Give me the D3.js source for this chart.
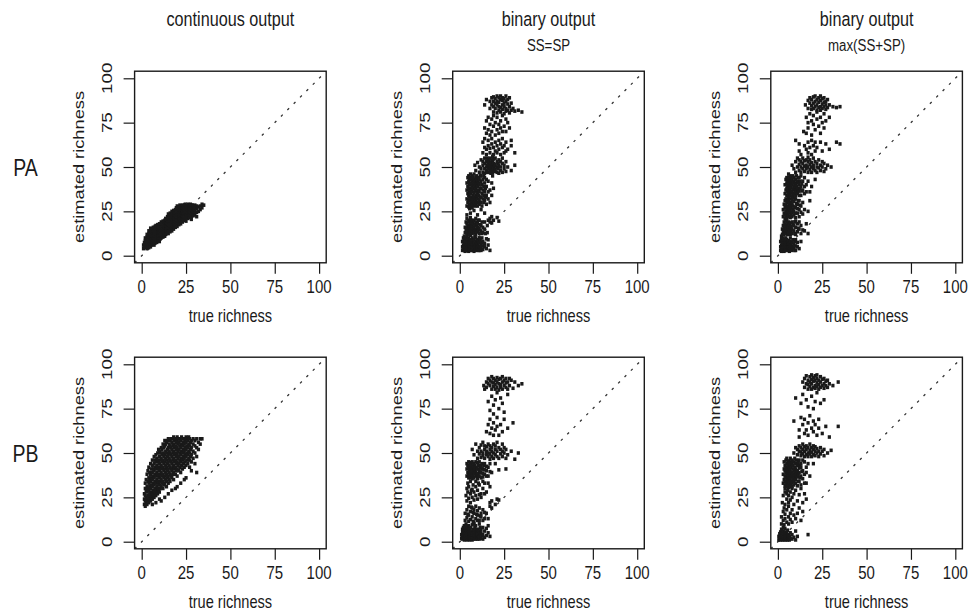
<!DOCTYPE html>
<html><head><meta charset="utf-8">
<script src="https://cdn.jsdelivr.net/npm/d3@7"></script>
<style>
body{margin:0;background:#fff}
svg{display:block}
text{font-family:"Liberation Sans",Arial,Helvetica,sans-serif;fill:#1a1a1a}
</style>
</head><body>
<svg id="chart" width="971" height="612"></svg>
<script>
// ---------- labels ----------
const columnTitles = ["continuous output", "binary output", "binary output"];
const columnSubtitles = ["", "SS=SP", "max(SS+SP)"];
const rowLabels = ["PA", "PB"];
const tickValues = [0, 25, 50, 75, 100];
const xTitle = "true richness";
const yTitle = "estimated richness";

// ---------- data: each row = [true richness, estimated richness values...] ----------
const paContinuous = [
 [1,4,6],[1.5,5,7.5],[2,4.5,6,8.5,10],[2.5,5,7,9],[3,4,6,8,10.5,12],[3.5,5,7,9.5,11],
 [4,4.5,6,8,10,12.5,14],[4.5,5.5,7.5,9,11,13],[5,5,6.5,8.5,10.5,12,14.5,15.5],[5.5,6,8,9.5,11.5,13.5],
 [6,6.5,7.5,9,11,13,15],[6.5,7,8.5,10,12,14,16],[7,6,8,9.5,11.5,13,15],[7.5,7,9,10.5,12.5,14.5,16.5],
 [8,8,10,11.5,13.5,15.5,17],[8.5,7.5,9,11,12.5,14,16],[9,8.5,10,12,13.5,15,17.5],[9.5,9,11,13,14.5,16.5],
 [10,8,10,12,13.5,15,16.5,18],[10.5,9.5,11.5,13,14.5,16],[11,10,12,14,15.5,17,19],[11.5,11,12.5,14.5,16,18],
 [12,10.5,12,13.5,15,17,19.5],[12.5,11.5,13,15,16.5,18.5],[13,11,12.5,14,16,17.5,20],[13.5,12,14,15.5,17,19,21],
 [14,12.5,14,15.5,17,18.5,20.5],[14.5,13,15,16.5,18,20,22],[15,12.5,14,16,17.5,19,21,23.5],
 [15.5,14,16,17.5,19.5,21.5],[16,13.5,15,17,18.5,20,22,24],[16.5,15,16.5,18,20,21.5,23],
 [17,14,16,17.5,19,21,22.5,25],[17.5,15.5,17,19,20.5,22,24],[18,15,16.5,18,20,21.5,23,25.5],
 [18.5,16.5,18,19.5,21,23,24.5],[19,16,17.5,19,21,22.5,24,26],[19.5,17,19,20.5,22,24,25.5,27],
 [20,16.5,18,20,21.5,23,25,26.5,28],[20.5,18.5,20,22,23.5,25,27],[21,17.5,19.5,21,22.5,24,26,27.5],
 [21.5,19,20.5,22,24,25.5,27,28.5],[22,18,20,21.5,23,25,26.5,28],[22.5,19.5,21,23,24.5,26,27.5],
 [23,19,21,22.5,24,25.5,27,28.5],[23.5,20.5,22,23.5,25,26.5,28],[24,20,22,24,25.5,27,28.5],
 [24.5,21,23,24.5,26,27.5,29],[25,19.5,22,23.5,25,26.5,28],[25.5,21.5,23,25,26.5,28],
 [26,21,23,24.5,26,27.5,29],[26.5,22,24,25.5,27,28.5],[27,21.5,23.5,25,26.5,28],[27.5,23,25,26.5,28,29],
 [28,20.5,22,24,26,27.5,28.5],[28.5,23.5,25.5,27,28.5],[29,22.5,25,26.5,28],[29.5,24,26,27.5],
 [30,23,25,27,28.5],[31,22,24.5,26.5,28],[32,25,27.5],[33,26,28],[34,27,29],[35,28.5]
];

const paBinaryEqual = [
 // 2-12
 [1.5,3,5,8],[2,4,6,10],[2.5,3,5,7,9,11],[3,2.5,4.5,6.5,8.5],[3.5,3,5,7,10],[4,4,6,8,11],[4.5,3,5,7,9],
 [5,2.5,4,6,8,10],[5.5,3.5,5.5,7.5],[6,3,5,7,9,11.5],[6.5,4,6,8],[7,3,5,7,10],[7.5,4,6,8.5],
 [8,2.5,5,7,9],[8.5,4,6,11],[9,3,5.5,8,10],[9.5,4.5,7],[10,4,6.5,9],[10.5,3,5.5,8],[11,3,5,7.5,10],
 [11.5,4.5,9],[12,3,4.5,6.5],[12.5,7.5,10],[13,3.5,5.5,8],[14,5,7],[15,4,9.5],[16,6,9],[17,3],
 // 12-22
 [3,13,16],[3.5,14.5,19],[4,12.5,15.5,18,21],[4.5,13.5,17],[5,13,14.5,17,20],[5.5,12,16,19],
 [6,13.5,15,18,21.5],[6.5,16.5,20],[7,12.5,14,16.5,19.5],[7.5,15,18],[8,13,16,20],[8.5,14.5,17.5],
 [9,12,15,19,21],[9.5,13.5,17],[10,13.5,16,18],[10.5,14.5,20],[11,12.5,15.5,20],[11.5,17.5],[12,14,17],
 [12.5,12.5,19],[13,13,16],[14,15,19],[14.5,12.5],[15.5,13,17],[16,20],[17,19,21],[18,18.5,22],[19,20],
 [21,21.5],[22,19.5],
 [4,23],[6,24],[8,25.5],[10,23],[12,26],[5.5,26.5],[14,24],
 // 27-46
 [4,28,32,37,41],[4.5,30,35,39,44],[5,27.5,31,34,38,42,45],[5.5,29,33,36,40,43],[6,28,31,35,38,41,44,46],
 [6.5,30,33,37,40,43],[7,27,29,32,36,39,42,45],[7.5,28.5,31,34,38,41,44],[8,30,33,35.5,40,43,46],
 [8.5,28,32,37,39,42],[9,29,31,34,38,41,44],[9.5,30,33,36,40,43,45],[10,28,32,35,39,42],
 [10.5,30,34,37,41,44],[11,29,31,36,40,43],[11.5,33,38,45],[12,30,33,38,42,45],[12.5,28,35,40],
 [13,32,37,43],[13.5,30,34,39,45],[14,31,36,41,44],[14.5,33,38],[15,29,34,39,43],[16,32,36,42],
 [17,30,37],[18,34,41],[18.5,45],[19,38],
 // 46-56
 [8.5,51],[9,48],[10,52.5],[11,47,50],[12,49,54],[13,47,51,53],[14,46.5,49,52,55],[15,48,50,53],
 [15.5,47,51,55],[16,49,52,54],[16.5,47,50,53],[17,48,51,55],[17.5,46.5,49.5,52.5],[18,48,51,54],
 [18.5,47,50,53,56],[19,49,52,54.5],[19.5,47.5,50.5],[20,48.5,51.5,55],[21,47,50,53],[21.5,49,52],
 [22,46.5,51,54],[23,48,50,53],[24,47,52,55],[25,49,51],[26,47.5,53],[27,50],[29,48],[31,51],
 // 56-67
 [13,58,64],[14,61,66],[15,57,60],[16,62,65],[17,58,60.5],[18,63,66],[19,57,61],[20,59,64],[21,62,58],
 [22,65,60],[23,57,63],[24,61,66],[25,58,62],[26,64,59],[27,60],[29,62,65],[31,58],
 // 67-80
 [14,72],[15,69,76],[16,71,78],[17,68,74],[18,70,77],[19,73,79],[20,68,75],[21,71,78],[22,74,69],
 [23,76,72],[24,70,79],[25,73],[26,77,70],[27,75],[28,72],
 // 80-90
 [14,85],[15,88],[17,83,87],[18,89,85],[19,81,84,87,89.5],[20,83,86,88.5],[21,80.5,85,87,90],
 [22,82,84,86.5,89],[23,81,83.5,88,90],[24,82.5,85,87.5,89],[25,80,84,86,88.5],[26,81.5,83,87,90],
 [27,82,85.5,88],[28,80.5,84,89],[29,82,86],[30,83],[31,81.5],[33,82],[35,81]
];

const paBinaryMax = [
 // 2-11
 [1.5,3,5,8],[2,2.5,4,6,9,11],[2.5,3,5,7],[3,4,6,8,10],[3.5,2.5,5,7,9],[4,3,4.5,6,8],[4.5,3.5,5.5,7.5,10],
 [5,3,5,7,9],[5.5,4,6,8],[6,3,5,6.5,8.5],[6.5,2.5,4.5,7],[7,3.5,5.5,8,10],[7.5,4,6],[8,3,5,7.5],
 [8.5,4.5,9],[9,4,6.5],[9.5,3,8],[10,3,5.5,9],[11,5,7.5],[12,4],[13,8],
 // 11-20
 [2.5,12,15],[3,13.5,17],[3.5,12,15.5,19],[4,13,14,17.5],[4.5,12.5,16,19.5],[5,14,17,20],[5.5,12,15,18],
 [6,13,16.5,19],[6.5,14.5,17.5],[7,12,15.5,18.5],[7.5,13.5,16.5],[8,12.5,15,19],[8.5,17.5],[9,14,17],
 [9.5,12.5,19],[10,12,16,19.5],[11,13.5,18],[11.5,15.5],[12,15,19],[13,12.5,17],[14,14.5],[15,14],
 [16,18],[17,12.5],
 // 21-33
 [3,22,26],[3.5,24,29],[4,21,23.5,27,31],[4.5,22.5,25,28.5,32],[5,21,24,26.5,30],[5.5,23,27.5,31.5],
 [6,22,25,28,30.5,33],[6.5,24,26.5,29.5],[7,21.5,25.5,28,32],[7.5,23,27,30],[8,22,24.5,29,31.5],
 [8.5,26,28,33],[9,23,25,30.5],[9.5,27.5,32],[10,21.5,24,27,32],[10.5,29.5],[11,24,26.5,29],[11.5,31],
 [12,22,26,31],[12.5,28.5],[13,24.5,28],[14,23.5,30],[15,26],[17,25],[18,31],
 // 33-46
 [4,35,40],[4.5,37,43],[5,34,38,41,44],[5.5,36,39.5,42.5],[6,33.5,35,38,41,44,46],[6.5,36.5,40,43],
 [7,34,37,39,42,45],[7.5,35.5,38.5,41.5,44],[8,33,36,40,43],[8.5,34.5,37.5,41,45],[9,35,39,42,44],
 [9.5,36,38,41],[10,34,37,40.5,43],[10.5,35.5,39,45],[11,35,38,42],[11.5,36.5,41,44],[12,34,36.5,40,44],
 [12.5,38,42],[13,34,39,45],[13.5,36.5,40.5],[14,37,42],[15,35,39,44],[16,36,40],[17,42],[18,36],
 [19,39],[21,43],
 // 46-56
 [8,51],[9,49],[10,47,53],[11,50,55],[12,48,51.5,54],[13,47,50,53],[14,49,52,55],[15,47.5,50.5,53.5],
 [16,49,51,54],[17,47,50,53,55.5],[18,48.5,51.5,54],[19,47,50,52.5],[20,49,51,55],[21,48,53],
 [22,47,50,52],[23,49.5,54],[24,48,51],[25,50,53],[26,47.5,52],[27,49],[28,51],[30,50],
 // 56-67
 [10,65],[12,59,63],[13,57],[15,62],[16,60],[17,58,64],[18,61],[19,57,65],[20,62],[21,59,64],[22,61],
 [24,64],[25,59],[27,63],[29,60],[33,64],[35,63],
 // 67-82
 [14.5,70],[16,69,78],[17,72,75],[18,80],[19,68,76],[20,74,79],[21,71],[22,77,81],[23,73],[24,69,78],
 [25,75],[26,72,80],[27,76],[29,78],
 // 82-90
 [15.5,85],[17,83,87.5],[18,86,89],[19,82.5,84.5,88],[20,83,86,89.5],[21,84,87,90],[22,82,85,88],
 [23,83.5,86.5,89],[24,82,84,87.5,90],[25,83,85.5,88.5],[26,84,86.5,89],[27,82.5,85,87],[28,83.5,88],
 [29,85],[31,84],[33,83.5],[35,84]
];

const pbContinuous = [
 [1.5,21,24,27],[2,20,23,26,30,33],[2.5,22,25,29,35],[3,21,24,28,31,38],[3.5,23,26,30,34,40],
 [4,22,25,29,33,36,42],[4.5,24,27,31,35,39],[5,23,26,30,34,38,44],[5.5,25,28,32,36,41],
 [6,21,24,27,31,35,39,43,46],[6.5,26,29,33,37,41],[7,25,28,32,36,40,44,48],[7.5,27,30,34,38,42,46],
 [8,22,26,29,33,37,41,45,49],[8.5,28,31,35,39,43,47],[9,27,30,34,38,42,46,50],[9.5,29,33,37,41,45,52],
 [10,24,28,32,36,40,44,48,51],[10.5,30,34,38,42,46,50],[11,23,31,35,39,43,47,53],[11.5,33,37,41,45,49,52],
 [12,30,34,38,42,46,50,55],[12.5,32,36,40,44,48,53],[13,25,33,37,41,45,49,54,57],[13.5,35,39,43,47,51,55],
 [14,31,34,38,42,46,50,56],[14.5,36,40,44,48,52,57],[15,27,33,37,41,45,49,53,58],[15.5,35,39,43,47,51,55],
 [16,34,38,42,46,50,54,57],[16.5,37,41,45,49,53,58],[17,29,36,40,44,48,52,56],[17.5,38,42,46,50,54,58],
 [18,35,39,43,47,51,55,59],[18.5,41,45,49,53,57],[19,30,38,42,46,50,54,58],[19.5,40,44,48,52,56],
 [20,31,37,41,45,49,53,57,59],[20.5,43,47,51,55,58],[21,40,44,48,52,56],[21.5,42,46,50,54,58],
 [22,33,39,45,49,53,57],[22.5,43,47,51,55,59],[23,41,46,50,54,58],[23.5,44,48,52,56],
 [24,35,42,47,51,55,58],[24.5,45,49,53,57],[25,36,43,48,52,56,59],[25.5,46,50,54,58],
 [26,44,49,53,57],[26.5,47,51,55,59],[27,42,46,50,54,58],[27.5,48,52,56],[28,40,45,49,53,57],
 [29,47,51,55,58],[30,44,50,54,57],[31,39,48,53,58],[32,52,56],[33,55,58],[34,58]
];

const pbBinaryEqual = [
 // 1-11
 [1,2,4],[1.5,1.5,3,5.5,7],[2,2,3.5,5,8],[2.5,1,2.5,4,6,9],[3,1.5,3,4.5,6.5,8],[3.5,2,3.5,5,7,10],
 [4,1,2.5,4,6,8.5],[4.5,1.5,3,5,7],[5,2,3.5,6,9],[5.5,1,2.5,4.5,7.5],[6,1.5,3,5,8],[6.5,2,4,6],
 [7,1,3,5,9.5],[7.5,2,4,7],[8,1.5,3.5,6,10],[8.5,2.5,5,8],[9,1.5,4,6.5,9],[9.5,3,5.5],[10,1.5,4,7],
 [10.5,2.5,6],[11,1.5,3,6,10],[11.5,4.5,8],[12,2,5,7],[12.5,3.5],[13,1.5,4,8],[14,2.5,6],[15,3.5,7.5],
 [16,5,9],[17,3],
 // 11-24
 [3,12,16],[4,13.5,18],[4.5,15.5],[5,11.5,15,20],[6,12.5,17],[6.5,19.5],[7,14,19],[7.5,11.5,16.5],
 [8,11,16,18],[9,13,20],[9.5,15.5],[10,12,15,17.5],[11,12,19],[11.5,14.5],[12,14,16],[13,12,18],
 [14,13,16.5],[15,16],[16,13],[17,20,22],[18,19,23],[20,21],[22,23.5],[21,24],
 // 22-35
 [3.5,26],[4,23,30],[4.5,28,33],[5,24.5,31],[6,22,27,34],[6.5,29],[7,25,29.5],[7.5,32],[8,23.5,28],
 [9,26,31,34],[10,24,29],[10.5,33],[11,26.5,32],[12,25,27],[13,30,34],[14,27,33],[15,28],[16,33],[17,31],
 // 35-46
 [4,37,41,44],[4.5,39,43],[5,36,38.5,41.5,45],[5.5,37.5,40,43],[6,36,39,42,44.5],[6.5,37,40.5,43.5],
 [7,35.5,38,41,45],[7.5,37,39.5,42.5],[8,36,38.5,41,44],[8.5,40,43],[9,37,39,42,45],[9.5,38,41],
 [10,35.5,38.5,41,44.5],[10.5,37,43],[11,37,40,45],[11.5,39,42],[12,36,39,43],[12.5,41,44],
 [13,36.5,38.5,41],[13.5,43],[14,38,40.5,44],[15,37,40,42.5],[16,37,42],[17,39.5,44],[18,39],[20,44],
 [22,40.5],[26,41],
 // 46-59
 [7,52],[8,49],[9,55],[10,47,51],[11,49.5,53],[12,47.5,51,54.5],[13,48.5,50,56],[14,47,52,54],
 [15,49,51,53.5],[16,48,50,55],[17,46.5,49.5,52,54],[18,48,51,53],[19,47,50,55],[20,49,52,54],
 [21,48,51,56],[22,47,53],[23,49.5,52],[24,48,51,55],[25,50,53],[26,47,52],[27,49],[29,51],[31,46.5],[33,50],
 // 59-72
 [15,62],[16,66],[17,61,69],[18,64],[19,60,67],[20,63],[21,65,70],[22,60],[23,66],[24,62],[25,69],[27,64],[30,67],
 // 72-85
 [16,79],[17,74],[18,82],[19,72,77],[20,80],[21,84],[22,75],[23,81],[24,78],[25,73],[27,83],
 // 85-93
 [13.5,88],[14,86],[15,87,90],[16,89,92],[17,88,91],[18,86,90,93],[19,87.5,89.5,92],[20,86,88.5,91],
 [21,87,90,92.5],[22,85.5,89,91.5],[23,87,88.5,92],[24,86,90,93],[25,88,91],[26,87,89.5,92],
 [27,86,90],[28,88,92],[29,91],[30,86.5],[31,90],[33,88],[35,89]
];

const pbBinaryMax = [
 // 0-9
 [0.5,1,3],[1,2,4.5],[1.5,1,3,5.5],[2,1.5,2.5,4,7],[2.5,1,3,5],[3,2,3.5,6,8],[3.5,1,2.5,4.5],
 [4,1.5,3,5.5,7.5],[4.5,1,2,4],[5,1.5,3,5],[5.5,1,2.5,4,6.5],[6,2,3.5],[6.5,1,3],[7,2,5],[8,1.5,4],
 [9,2.5],[10,1,6],[11,3],[17,4],
 // 9-20
 [2,10,14],[3,12,17],[3.5,9.5,19],[4,13,15.5],[5,11,18],[6,10,14,20],[7,12.5,16],[8,11,18],[9,15],
 [10,13],[11,16],[12,19],[13,12],[14,17],
 // 20-31
 [2.5,22],[3,26],[4,21,28,30],[5,24,27],[5.5,29],[6,22,26,30.5],[7,23.5,28],[8,25,30],[9,21,27],
 [10,29],[11,23],[12,26.5],[13,30],[14,22],[15,27],[16,24],
 // 31-48
 [3,33,38],[3.5,35,41,45],[4,31.5,34,37,40,43],[4.5,32.5,36,39,42,46],[5,31,34,37.5,40.5,44,47],
 [5.5,33,35.5,38.5,42],[6,32,34.5,37,40,43,45.5],[6.5,33.5,36,39,41.5,44],[7,31,35,38,40.5,43,47],
 [7.5,32.5,34,37,42,45],[8,31,33.5,36.5,39,44,46],[8.5,35,38,41,43],[9,32,34,37,40,45],
 [9.5,36,39,42,47],[10,33,35,38,41,44],[10.5,37,39.5,46],[11,31.5,36.5,40,43],[11.5,34,38,44.5],
 [12,34,39,41.5,46],[12.5,36,43],[13,32,37,42,44],[13.5,39.5],[14,35.5,40,46],[15,33,38,45],
 [16,33,39,42],[17,44],[18,37],[20,44],
 // 48-56
 [9,50],[10,53],[11,49,52],[12,51,54],[13,48.5,50.5,53],[14,49.5,52,55],[15,48,51,53.5],[16,49,52,54],
 [17,48,50,53],[18,49.5,51.5,55],[19,48,50.5,53],[20,49,52,54],[21,48.5,51,53.5],[22,50,52.5],
 [23,48,51],[24,49.5,53],[25,51],[26,48.5,52],[28,50],[30,51.5],
 // 58-72
 [9,68],[12,59,63],[13,70],[14,66],[15,61,69],[16,63],[17,60,67],[18,71],[19,64],[20,62,68],[21,66],
 [22,60],[23,64,69],[25,61],[27,65],[29,59],[34,65],
 // 72-85
 [10,81],[13,78],[14,83],[16,80],[17,76],[19,82],[20,75],[21,79],[22,84],[24,78],[26,80],
 // 85-95
 [14,90],[15,87,92],[16,89,93.5],[17,86,88.5,91],[18,87.5,90,93],[19,86,89,91.5,94],[20,87,90.5,92.5],
 [21,86.5,88,91,93.5],[22,87.5,89.5,92,94],[23,86,88.5,91],[24,87,90,93],[25,88,91.5],[26,86.5,89,92],
 [27,88,90.5],[28,87,91],[29,89],[31,88],[34,90]
];

const panelData = [
  [paContinuous, paBinaryEqual, paBinaryMax],
  [pbContinuous, pbBinaryEqual, pbBinaryMax]
];

// ---------- layout ----------
const boxSize = 191.6;
const colLeft = [134.6, 452.7, 770.8];
const rowTop = [71.2, 357.2];
const ink = "#1a1a1a";
const SY = 1.25; // vertical text stretch seen in the reference

const svg = d3.select("#chart");
const x = d3.scaleLinear().domain([-4, 104]).range([0, boxSize]);
const y = d3.scaleLinear().domain([-4, 104]).range([boxSize, 0]);

const expand = rows => rows.flatMap(r => r.slice(1).map(v => [r[0], v]));

function label(parent, px, py, str, size, rotate) {
  return parent.append("text")
    .attr("transform", `translate(${px},${py}) scale(1,${SY})` + (rotate ? " rotate(-90)" : ""))
    .attr("text-anchor", "middle").style("font-size", size + "px").text(str);
}

columnTitles.forEach((t, c) => {
  label(svg, colLeft[c] + boxSize / 2, 26, t, 16.2);
  if (columnSubtitles[c]) label(svg, colLeft[c] + boxSize / 2, 51, columnSubtitles[c], 13.3);
});

rowLabels.forEach((t, r) => {
  label(svg, 25.5, rowTop[r] + boxSize / 2 + 9, t, 19.5);
});

panelData.forEach((rowPanels, r) => {
  rowPanels.forEach((rows, c) => {
    const g = svg.append("g").attr("transform", `translate(${colLeft[c]},${rowTop[r]})`);
    const clipId = `clip-${r}-${c}`;
    g.append("clipPath").attr("id", clipId).append("rect")
      .attr("width", boxSize).attr("height", boxSize);

    const xa = g.append("g").attr("transform", `translate(0,${boxSize})`)
      .call(d3.axisBottom(x).tickValues(tickValues).tickSizeInner(11).tickSizeOuter(0).tickFormat(""));
    xa.select(".domain").remove();
    xa.selectAll(".tick line").attr("stroke", ink).attr("stroke-width", 1.2);
    tickValues.forEach(v => label(g, x(v), boxSize + 30.5, v, 15));

    const ya = g.append("g")
      .call(d3.axisLeft(y).tickValues(tickValues).tickSizeInner(11).tickSizeOuter(0).tickFormat(""));
    ya.select(".domain").remove();
    ya.selectAll(".tick line").attr("stroke", ink).attr("stroke-width", 1.2);
    tickValues.forEach(v => label(g, -22.5, y(v), v, 15, true));

    label(g, boxSize / 2, boxSize + 59.3, xTitle, 14.6);
    label(g, -51, boxSize / 2, yTitle, 14.6, true);

    g.append("line").attr("clip-path", `url(#${clipId})`)
      .attr("x1", x(-4)).attr("y1", y(-4)).attr("x2", x(104)).attr("y2", y(104))
      .attr("stroke", "#333").attr("stroke-width", 1.3).attr("stroke-dasharray", "2.5,6.5");

    g.append("g").selectAll("rect").data(expand(rows)).join("rect")
      .attr("x", d => x(d[0]) - 1.6).attr("y", d => y(d[1]) - 1.8)
      .attr("width", 3.2).attr("height", 3.6).attr("fill", ink);

    g.append("rect").attr("width", boxSize).attr("height", boxSize)
      .attr("fill", "none").attr("stroke", ink).attr("stroke-width", 1.4);
  });
});
</script>
</body></html>
